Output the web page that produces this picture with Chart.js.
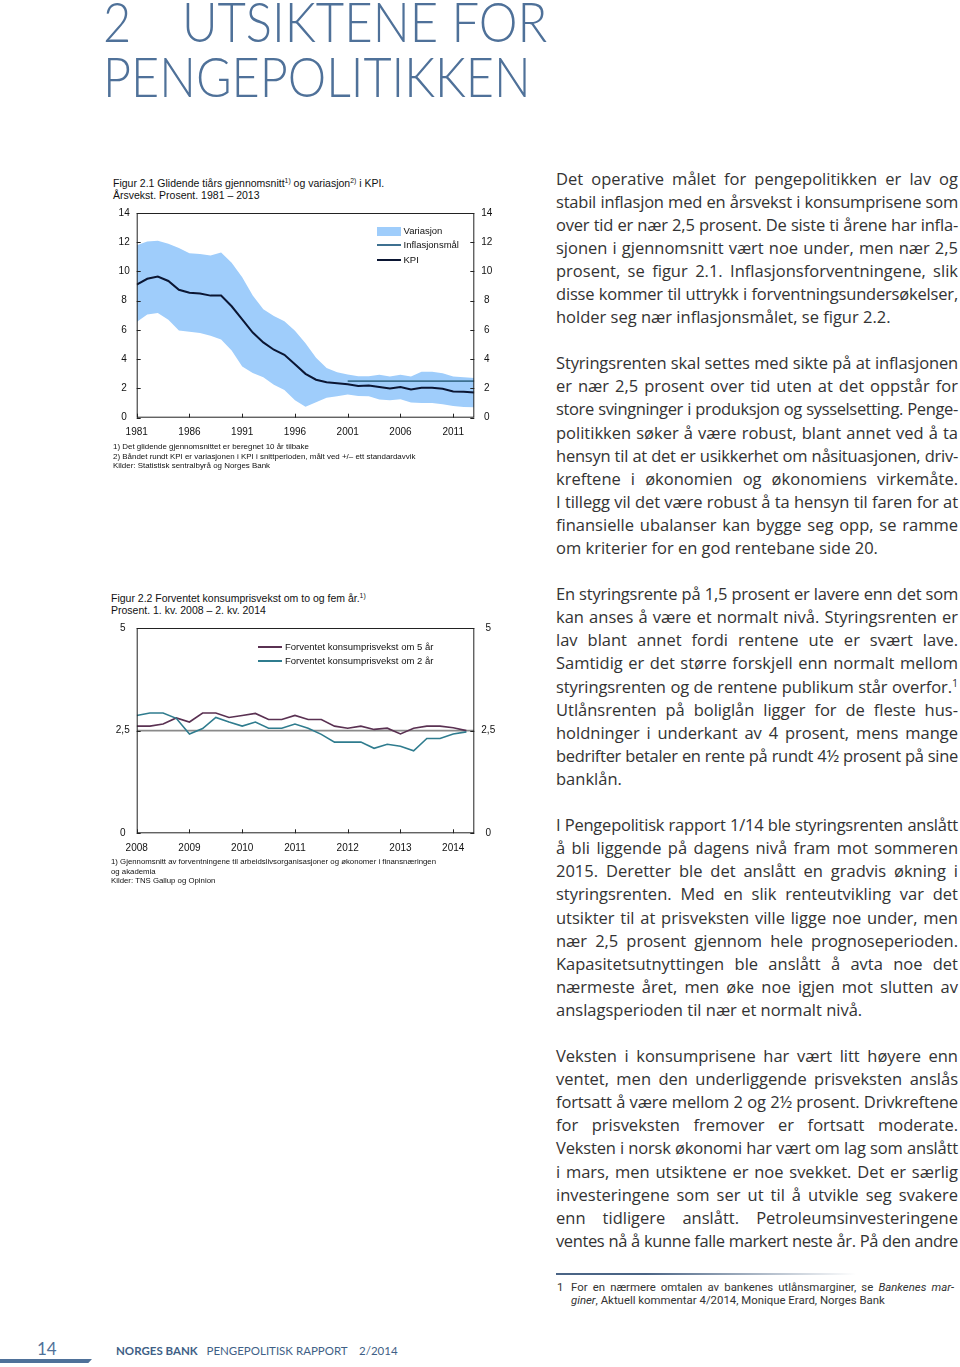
<!DOCTYPE html>
<html>
<head>
<meta charset="utf-8">
<script src="https://cdn.jsdelivr.net/npm/chart.js@4.4.1/dist/chart.umd.min.js"></script>
<style>
  body { margin:0; width:960px; height:1367px; background:#fff; position:relative; overflow:hidden; font-family:"Liberation Sans", Arial, sans-serif; }
  .abs { position:absolute; }
  .title { color:#4f7199; font-family:Lato, sans-serif; font-weight:300; font-size:56px; line-height:40px; height:40px; white-space:nowrap; transform-origin:0 0; }
  .ctitle { font-size:10.5px; line-height:12px; color:#111; white-space:nowrap; }
  .ctitle sup, .body sup { font-size:65%; line-height:0; vertical-align:super; }
  .cnote { font-size:7.95px; line-height:9.6px; color:#111; white-space:nowrap; }
  .leg { font-size:9.5px; color:#111; white-space:nowrap; }
  .body { left:556px; top:166.5px; width:402px; font-family:"Open Sans", sans-serif; font-size:16.5px; line-height:23.1px; color:#333; }
  .body div { white-space:nowrap; height:23.1px; }
  .body .j { text-align:justify; text-align-last:justify; }
  .body .gap { height:23.1px; }
  canvas { position:absolute; }
</style>
</head>
<body>
<div class="abs title" style="left:103px;top:1px;transform:scaleX(0.87)">2</div>
<div class="abs title" style="left:182px;top:1px;transform:scaleX(0.875)">UTSIKTENE FOR</div>
<div class="abs title" style="left:103px;top:56px;transform:scaleX(0.867)">PENGEPOLITIKKEN</div>

<!-- figur 2.1 -->
<div class="abs ctitle" style="left:113px;top:177px">Figur 2.1 Glidende tiårs gjennomsnitt<sup>1)</sup> og variasjon<sup>2)</sup> i KPI.<br>Årsvekst. Prosent. 1981 – 2013</div>
<canvas id="c1" width="420" height="245" style="left:100px;top:200px"></canvas>
<div class="abs" style="left:377px;top:227px;width:24px;height:9px;background:#9fcdfb"></div>
<div class="abs leg" style="left:403.5px;top:225px">Variasjon</div>
<div class="abs" style="left:377px;top:244.3px;width:24px;height:1.5px;background:#3d7090"></div>
<div class="abs leg" style="left:403.5px;top:239px">Inflasjonsmål</div>
<div class="abs" style="left:377px;top:258.8px;width:24px;height:2px;background:#0b1633"></div>
<div class="abs leg" style="left:403.5px;top:253.5px">KPI</div>
<div class="abs cnote" style="left:113px;top:442px">1) Det glidende gjennomsnittet er beregnet 10 år tilbake<br>2) Båndet rundt KPI er variasjonen i KPI i snittperioden, målt ved +/– ett standardavvik<br>Kilder: Statistisk sentralbyrå og Norges Bank</div>

<!-- figur 2.2 -->
<div class="abs ctitle" style="left:111px;top:592px">Figur 2.2 Forventet konsumprisvekst om to og fem år.<sup>1)</sup><br>Prosent. 1. kv. 2008 – 2. kv. 2014</div>
<canvas id="c2" width="420" height="245" style="left:100px;top:615px"></canvas>
<div class="abs" style="left:258px;top:646.3px;width:24px;height:1.5px;background:#5a3152"></div>
<div class="abs leg" style="left:285px;top:641px">Forventet konsumprisvekst om 5 år</div>
<div class="abs" style="left:258px;top:660px;width:24px;height:1.5px;background:#2f7c8e"></div>
<div class="abs leg" style="left:285px;top:654.5px">Forventet konsumprisvekst om 2 år</div>
<div class="abs cnote" style="left:111px;top:857px;font-size:7.8px">1) Gjennomsnitt av forventningene til arbeidslivsorganisasjoner og økonomer i finansnæringen<br>og akademia<br>Kilder: TNS Gallup og Opinion</div>

<!-- brødtekst -->
<div class="abs body" id="body">
  <div class="j">Det operative målet for pengepolitikken er lav og</div>
  <div class="j">stabil inflasjon med en årsvekst i konsumprisene som</div>
  <div class="j">over tid er nær 2,5 prosent. De siste ti årene har infla-</div>
  <div class="j">sjonen i gjennomsnitt vært noe under, men nær 2,5</div>
  <div class="j">prosent, se figur 2.1. Inflasjonsforventningene, slik</div>
  <div class="j">disse kommer til uttrykk i forventningsundersøkelser,</div>
  <div>holder seg nær inflasjonsmålet, se figur 2.2.</div>
  <div class="gap"></div>
  <div class="j">Styringsrenten skal settes med sikte på at inflasjonen</div>
  <div class="j">er nær 2,5 prosent over tid uten at det oppstår for</div>
  <div class="j">store svingninger i produksjon og sysselsetting. Penge-</div>
  <div class="j">politikken søker å være robust, blant annet ved å ta</div>
  <div class="j">hensyn til at det er usikkerhet om nåsituasjonen, driv-</div>
  <div class="j">kreftene i økonomien og økonomiens virkemåte.</div>
  <div class="j">I tillegg vil det være robust å ta hensyn til faren for at</div>
  <div class="j">finansielle ubalanser kan bygge seg opp, se ramme</div>
  <div>om kriterier for en god rentebane side 20.</div>
  <div class="gap"></div>
  <div class="j">En styringsrente på 1,5 prosent er lavere enn det som</div>
  <div class="j">kan anses å være et normalt nivå. Styringsrenten er</div>
  <div class="j">lav blant annet fordi rentene ute er svært lave.</div>
  <div class="j">Samtidig er det større forskjell enn normalt mellom</div>
  <div class="j">styringsrenten og de rentene publikum står overfor.<sup>1</sup></div>
  <div class="j">Utlånsrenten på boliglån ligger for de fleste hus-</div>
  <div class="j">holdninger i underkant av 4 prosent, mens mange</div>
  <div class="j">bedrifter betaler en rente på rundt 4½ prosent på sine</div>
  <div>banklån.</div>
  <div class="gap"></div>
  <div class="j">I Pengepolitisk rapport 1/14 ble styringsrenten anslått</div>
  <div class="j">å bli liggende på dagens nivå fram mot sommeren</div>
  <div class="j">2015. Deretter ble det anslått en gradvis økning i</div>
  <div class="j">styringsrenten. Med en slik renteutvikling var det</div>
  <div class="j">utsikter til at prisveksten ville ligge noe under, men</div>
  <div class="j">nær 2,5 prosent gjennom hele prognoseperioden.</div>
  <div class="j">Kapasitetsutnyttingen ble anslått å avta noe det</div>
  <div class="j">nærmeste året, men øke noe igjen mot slutten av</div>
  <div>anslagsperioden til nær et normalt nivå.</div>
  <div class="gap"></div>
  <div class="j">Veksten i konsumprisene har vært litt høyere enn</div>
  <div class="j">ventet, men den underliggende prisveksten anslås</div>
  <div class="j">fortsatt å være mellom 2 og 2½ prosent. Drivkreftene</div>
  <div class="j">for prisveksten fremover er fortsatt moderate.</div>
  <div class="j">Veksten i norsk økonomi har vært om lag som anslått</div>
  <div class="j">i mars, men utsiktene er noe svekket. Det er særlig</div>
  <div class="j">investeringene som ser ut til å utvikle seg svakere</div>
  <div class="j">enn tidligere anslått. Petroleumsinvesteringene</div>
  <div class="j">ventes nå å kunne falle markert neste år. På den andre</div>
</div>

<!-- fotnote -->
<div class="abs" style="left:556px;top:1273px;width:300px;height:2px;background:linear-gradient(90deg,#4a6485,#4a6485 30%,rgba(74,100,133,0))"></div>
<div class="abs" style="left:557px;top:1281px;font-family:Roboto,sans-serif;font-size:11.4px;line-height:13px;color:#333">1</div>
<div class="abs" style="left:571px;top:1281px;width:383px;font-family:Roboto,sans-serif;font-size:11.4px;line-height:13px;color:#333">
  <div style="text-align:justify;text-align-last:justify;white-space:nowrap">For en nærmere omtalen av bankenes utlånsmarginer, se <i>Bankenes mar-</i></div>
  <div style="white-space:nowrap"><i>giner</i>, Aktuell kommentar 4/2014, Monique Erard, Norges Bank</div>
</div>

<!-- sidefot -->
<div class="abs" style="left:37px;top:1338px;font-family:Lato,sans-serif;font-size:17px;color:#4f7199">14</div>
<div class="abs" style="left:0;top:1359px;width:92px;height:4px;background:#4f7199;clip-path:polygon(0 0,100% 0,96% 100%,0 100%)"></div>
<div class="abs" style="left:116px;top:1344px;font-family:Lato,sans-serif;font-size:11.5px;color:#3f5f86;white-space:nowrap"><b>NORGES BANK</b>&nbsp;&nbsp; PENGEPOLITISK RAPPORT&nbsp;&nbsp;&nbsp; 2/2014</div>

<script>
// tighten body lines that are wider than the column
(function(){
  const W = 402;
  document.querySelectorAll('#body div').forEach(d=>{
    const s = document.createElement('span');
    s.innerHTML = d.innerHTML;
    s.style.whiteSpace = 'nowrap';
    s.style.position = 'absolute';
    s.style.visibility = 'hidden';
    d.parentNode.appendChild(s);
    const w = s.getBoundingClientRect().width;
    s.remove();
    const n = d.textContent.length;
    if (w > W - 1 && n > 1) d.style.letterSpacing = (-(w - W + 2) / n) + 'px';
  });
})();

// ---- Figur 2.1: glidende tiårs gjennomsnitt og variasjon i KPI ----
const years = [1981,1982,1983,1984,1985,1986,1987,1988,1989,1990,1991,1992,1993,1994,1995,1996,1997,
  1998,1999,2000,2001,2002,2003,2004,2005,2006,2007,2008,2009,2010,2011,2012,2013];
const kpi = [9.1,9.5,9.65,9.35,8.75,8.55,8.5,8.35,8.35,7.62,6.72,5.82,5.15,4.65,4.3,3.65,3.0,
  2.6,2.43,2.35,2.28,2.17,2.2,2.1,2.0,2.1,1.93,2.05,2.05,1.98,1.8,1.78,1.72];
const bandUpper = [11.8,12.05,12.1,11.9,11.6,11.25,11.2,11.1,11.3,10.6,9.6,8.35,7.42,6.96,6.6,5.95,5.1,
  4.1,3.4,3.1,2.95,2.84,2.84,2.93,2.82,2.93,2.82,3.15,3.15,3.04,2.82,2.77,2.72];
const bandLower = [6.55,7.05,7.16,6.7,5.97,5.88,5.8,5.6,5.35,4.6,3.5,3.05,2.77,2.25,1.9,1.2,0.75,
  1.05,1.37,1.46,1.58,1.49,1.46,1.24,1.2,1.26,1.04,1.0,1.0,0.92,0.8,0.74,0.72];
const targetYears = [2001, 2013];
const targetValues = [2.5, 2.5];
const xTicks1 = [1981,1986,1991,1996,2001,2006,2011];
const yTicks1 = [0,2,4,6,8,10,12,14];

// ---- Figur 2.2: forventet konsumprisvekst ----
const quarters = ['2008K1','2008K2','2008K3','2008K4','2009K1','2009K2','2009K3','2009K4',
  '2010K1','2010K2','2010K3','2010K4','2011K1','2011K2','2011K3','2011K4',
  '2012K1','2012K2','2012K3','2012K4','2013K1','2013K2','2013K3','2013K4','2014K1','2014K2'];
const exp5 = [2.61,2.61,2.66,2.81,2.71,2.93,2.93,2.82,2.87,2.92,2.77,2.77,2.87,2.77,2.77,2.61,
  2.56,2.61,2.53,2.56,2.42,2.56,2.61,2.61,2.57,2.5];
const exp2 = [2.87,2.93,2.93,2.80,2.42,2.55,2.82,2.71,2.61,2.71,2.56,2.56,2.66,2.56,2.41,2.22,
  2.22,2.22,2.07,2.17,2.12,2.01,2.31,2.31,2.42,2.47];
const xTicks2 = [2008,2009,2010,2011,2012,2013,2014];
const yTicks2 = [0,2.5,5];
const refLevel = 2.5;

// quarter label -> decimal year
function qx(q){ return parseInt(q.slice(0,4)) + (parseInt(q.slice(5))-1)/4; }
function pts(xs, ys){ return xs.map((x,i)=>({x, y:ys[i]})); }

// box around plot area + short inward tick marks
const boxTicks = {
  id: 'boxTicks',
  afterDatasetsDraw(chart){
    const {ctx, chartArea:a, scales} = chart;
    ctx.save();
    ctx.strokeStyle = '#222';
    ctx.lineWidth = 1;
    ctx.strokeRect(a.left+0.5, a.top+0.5, a.right-a.left-1, a.bottom-a.top-1);
    ctx.beginPath();
    scales.x.ticks.forEach(t=>{
      const px = Math.round(scales.x.getPixelForValue(t.value))+0.5;
      ctx.moveTo(px, a.bottom); ctx.lineTo(px, a.bottom-4);
    });
    scales.y.ticks.forEach(t=>{
      const py = Math.round(scales.y.getPixelForValue(t.value))+0.5;
      ctx.moveTo(a.left, py); ctx.lineTo(a.left+4, py);
      ctx.moveTo(a.right, py); ctx.lineTo(a.right-4, py);
    });
    ctx.stroke();
    ctx.restore();
  }
};

const fmt = v => String(v).replace('.', ',');
const tickFont = {family:'"Liberation Sans", Arial, sans-serif', size:10};

function scalesFor(xmin, xmax, xt, ymin, ymax, yt, xh){
  const yAxis = (pos, w) => ({
    type:'linear', position:pos, min:ymin, max:ymax,
    grid:{display:false, drawTicks:false}, border:{display:false},
    afterBuildTicks: s => { s.ticks = yt.map(v=>({value:v})); },
    afterFit: s => { s.width = w; },
    ticks:{font:tickFont, color:'#111', padding:7, crossAlign:'center', callback:fmt}
  });
  return {
    x:{
      type:'linear', min:xmin, max:xmax,
      grid:{display:false, drawTicks:false}, border:{display:false},
      afterBuildTicks: s => { s.ticks = xt.map(v=>({value:v})); },
      afterFit: s => { s.height = xh; },
      ticks:{font:tickFont, color:'#111', padding:9, maxRotation:0, autoSkip:false, callback:v=>String(v)}
    },
    y: yAxis('left', 36.7),
    y2: yAxis('right', 45.7)
  };
}

const common = {
  responsive:false, animation:false, devicePixelRatio:1,
  layout:{padding:{top:12.3, left:0, right:0, bottom:0}},
  plugins:{legend:{display:false}, tooltip:{enabled:false}},
  elements:{point:{radius:0}, line:{tension:0}}
};

// higher 'order' is drawn first (underneath)
new Chart(document.getElementById('c1'), {
  type:'line',
  data:{datasets:[
    {label:'øvre', order:4, data:pts(years, bandUpper), borderWidth:0, borderColor:'rgba(0,0,0,0)', fill:false},
    {label:'Variasjon', order:3, data:pts(years, bandLower), borderWidth:0, borderColor:'rgba(0,0,0,0)', backgroundColor:'#9fcdfb', fill:'-1'},
    {label:'Inflasjonsmål', order:2, data:pts(targetYears, targetValues), borderColor:'#3d7090', borderWidth:1.6, fill:false},
    {label:'KPI', order:1, data:pts(years, kpi), borderColor:'#0b1633', borderWidth:2, fill:false}
  ]},
  options:Object.assign({}, common, {scales:scalesFor(1981, 2013, xTicks1, 0, 14, yTicks1, 27.3)}),
  plugins:[boxTicks]
});

const qX = quarters.map(qx);
new Chart(document.getElementById('c2'), {
  type:'line',
  data:{datasets:[
    {label:'2,5', order:3, data:pts([2008, 2014.4], [refLevel, refLevel]), borderColor:'#8a8a8a', borderWidth:1.6, fill:false},
    {label:'Forventet konsumprisvekst om 5 år', order:2, data:pts(qX, exp5), borderColor:'#5a3152', borderWidth:1.6, fill:false},
    {label:'Forventet konsumprisvekst om 2 år', order:1, data:pts(qX, exp2), borderColor:'#2f7c8e', borderWidth:1.6, fill:false}
  ]},
  options:Object.assign({}, common, {scales:scalesFor(2008, 2014.4, xTicks2, 0, 5, yTicks2, 26.7)}),
  plugins:[boxTicks]
});
</script>
</body>
</html>
